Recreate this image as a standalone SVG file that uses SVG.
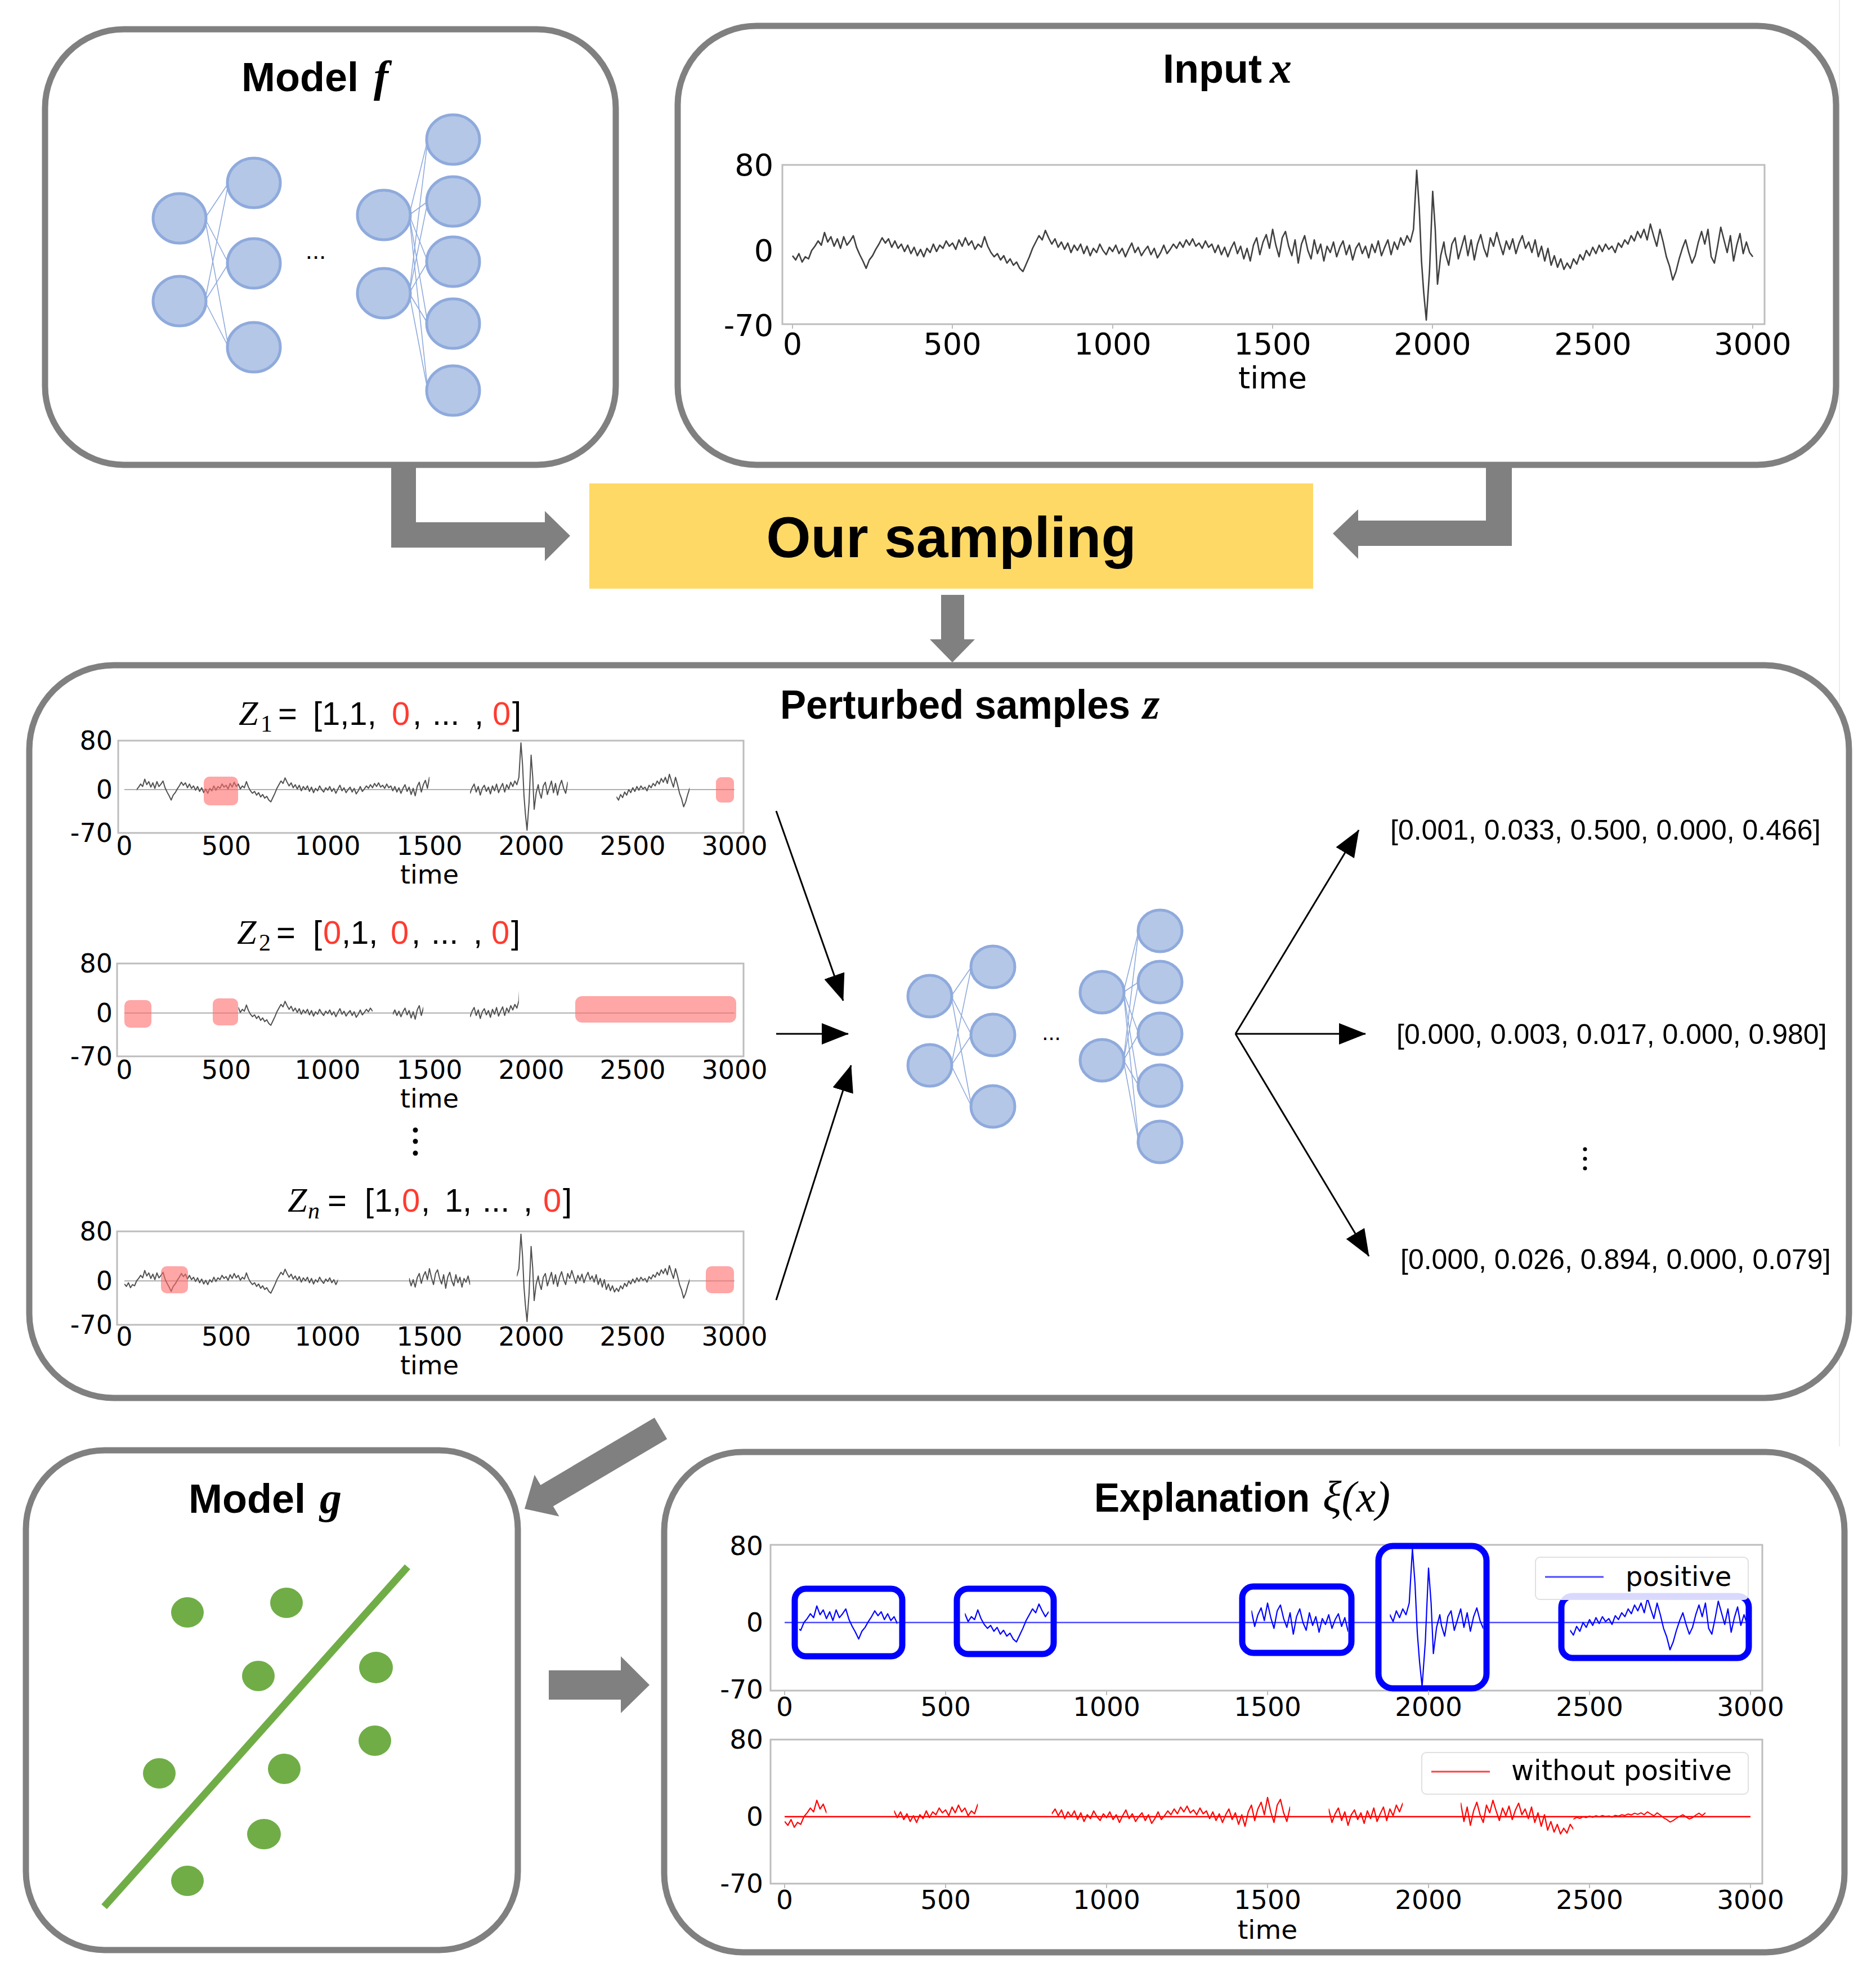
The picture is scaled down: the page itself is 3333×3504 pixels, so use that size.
<svg xmlns="http://www.w3.org/2000/svg" xmlns:xlink="http://www.w3.org/1999/xlink" width="3333" height="3504" viewBox="0 0 3333 3504">
<style>
.box{fill:#fff;stroke:#808080;stroke-width:11}
.title{font-family:"Liberation Sans",Arial,sans-serif;font-weight:bold;font-size:72px;fill:#000}
.math{font-family:"Liberation Serif","DejaVu Serif",serif;font-style:italic;font-weight:bold;fill:#000;font-size:78px}
.mathn{font-family:"Liberation Serif","DejaVu Serif",serif;font-style:italic;fill:#000}
.sub{font-family:"Liberation Serif","DejaVu Serif",serif;font-size:42px;fill:#000}
.tk{font-family:"DejaVu Sans",sans-serif;fill:#000;text-anchor:middle}
.tky{font-family:"DejaVu Sans",sans-serif;fill:#000;text-anchor:end}
.frame{fill:none;stroke:#bdbdbd;stroke-width:3}
.neuron{fill:#b4c7e7;stroke:#8faadc;stroke-width:5}
.syn{stroke:#8faadc;stroke-width:1.6}
.garrow{fill:#808080}
.zl{font-family:"Liberation Sans",Arial,sans-serif;font-size:58px;fill:#000}
.red{fill:#ff3b30}
.mask{fill:#ff6b6b;fill-opacity:0.6}
.out{font-family:"Liberation Sans",Arial,sans-serif;font-size:50px;fill:#000}
.bl{stroke:#000;stroke-width:3;fill:none}
.tick{stroke:#bdbdbd;stroke-width:2}
</style>
<defs>
<polyline id="sig" fill="none" vector-effect="non-scaling-stroke" stroke-linejoin="round" points="0,-5 10,-9 20,-3 30,-11 40,-6 50,-8 60,0 70,4 80,9 90,5 100,17 110,8 120,13 130,4 140,11 150,2 160,13 170,5 180,9 190,14 200,3 210,-4 220,-10 230,-17 240,-9 250,-5 260,1 270,6 280,12 290,7 300,11 310,3 320,9 330,2 340,6 350,-1 360,5 370,-3 380,3 390,-5 400,1 410,-6 420,2 430,-2 440,6 450,-1 460,5 470,2 480,9 490,4 500,7 510,1 520,10 530,4 540,12 550,5 560,9 570,1 580,6 590,3 600,13 610,4 620,-2 630,-6 640,-3 650,-9 660,-5 670,-12 680,-8 690,-14 700,-11 710,-17 720,-20 730,-13 740,-6 750,2 760,8 770,14 780,10 790,19 800,12 810,6 820,11 830,3 840,8 850,1 860,7 870,-2 880,5 890,0 900,6 910,-3 920,4 930,-5 940,2 950,-2 960,6 970,0 980,-4 990,3 1000,-1 1010,5 1020,-3 1030,2 1040,-6 1050,1 1060,7 1070,-2 1080,3 1090,-5 1100,0 1110,4 1120,-4 1130,2 1140,-7 1150,-2 1160,5 1170,-3 1180,1 1190,6 1200,2 1210,8 1220,3 1230,10 1240,5 1250,11 1260,4 1270,7 1280,2 1290,9 1300,3 1310,6 1320,-2 1330,5 1340,-4 1350,3 1360,-6 1370,2 1380,8 1390,-3 1400,4 1410,-8 1420,2 1430,-10 1440,5 1450,12 1460,-4 1470,8 1480,15 1490,2 1500,20 1510,5 1520,-6 1530,12 1540,18 1550,4 1560,-5 1570,10 1580,-12 1590,6 1600,14 1610,0 1620,-8 1630,10 1640,-3 1650,6 1660,-10 1670,4 1680,-2 1690,8 1700,-6 1710,3 1720,9 1730,-4 1740,5 1750,-9 1760,2 1770,7 1780,-3 1790,4 1800,-7 1810,6 1820,-2 1830,9 1840,-5 1850,3 1860,10 1870,-4 1880,8 1890,1 1900,12 1910,5 1920,14 1930,8 1940,20 1950,76 1958,40 1965,-10 1972,-40 1980,-66 1990,-20 2000,56 2008,20 2015,-32 2025,-5 2035,8 2040,-3 2050,-14 2060,6 2070,12 2080,-8 2090,3 2100,14 2110,-5 2120,10 2130,-9 2140,6 2150,15 2160,2 2170,-6 2180,12 2190,4 2200,17 2210,6 2220,-4 2230,9 2240,1 2250,11 2260,-3 2270,7 2280,14 2290,2 2300,8 2310,-2 2320,10 2330,-6 2340,4 2350,-10 2360,2 2370,-14 2380,-5 2390,-16 2400,-8 2410,-18 2420,-12 2430,-17 2440,-8 2450,-13 2460,-4 2470,-9 2480,0 2490,-5 2500,3 2510,-3 2520,5 2530,-1 2540,6 2550,1 2560,4 2570,-2 2580,7 2590,3 2600,10 2610,6 2620,14 2630,9 2640,18 2650,12 2660,20 2670,10 2680,25 2690,14 2700,4 2710,20 2720,8 2730,-6 2740,-15 2750,-28 2760,-20 2770,-8 2780,2 2790,10 2800,-2 2810,-12 2820,-5 2830,8 2840,18 2850,6 2860,20 2870,-6 2880,-12 2890,4 2900,22 2910,10 2920,-2 2930,14 2940,-10 2950,5 2960,16 2970,-3 2980,8 2990,-2 3000,-6"/>
<line id="zero" x1="0" y1="0" x2="3000" y2="0" vector-effect="non-scaling-stroke"/>
<clipPath id="cZ1" clipPathUnits="userSpaceOnUse"><rect x="60" y="-100" width="1440" height="200"/><rect x="1700" y="-100" width="480" height="200"/><rect x="2420" y="-100" width="360" height="200"/></clipPath>
<clipPath id="cZ2" clipPathUnits="userSpaceOnUse"><rect x="560" y="-100" width="660" height="200"/><rect x="1320" y="-100" width="150" height="200"/><rect x="1700" y="-100" width="240" height="200"/></clipPath>
<clipPath id="cZn" clipPathUnits="userSpaceOnUse"><rect x="0" y="-100" width="1050" height="200"/><rect x="1400" y="-100" width="300" height="200"/><rect x="1930" y="-100" width="850" height="200"/></clipPath>
<clipPath id="cPos" clipPathUnits="userSpaceOnUse"><rect x="45" y="-100" width="305" height="200"/><rect x="560" y="-100" width="260" height="200"/><rect x="1450" y="-100" width="300" height="200"/><rect x="1880" y="-100" width="290" height="200"/><rect x="2440" y="-100" width="555" height="200"/></clipPath>
<clipPath id="cNeg" clipPathUnits="userSpaceOnUse"><rect x="0" y="-100" width="130" height="200"/><rect x="340" y="-100" width="260" height="200"/><rect x="830" y="-100" width="740" height="200"/><rect x="1690" y="-100" width="230" height="200"/><rect x="2100" y="-100" width="350" height="200"/></clipPath>
<clipPath id="cNoise" clipPathUnits="userSpaceOnUse"><rect x="2450" y="-600" width="410" height="1200"/></clipPath>
<marker id="ah" viewBox="0 0 48 38" refX="47" refY="19" markerWidth="48" markerHeight="38" markerUnits="userSpaceOnUse" orient="auto"><path d="M0,0 L48,19 L0,38 z" fill="#000"/></marker>
</defs>
<rect width="3333" height="3504" fill="#fff"/>
<line x1="3268" y1="0" x2="3268" y2="2570" stroke="#ececec" stroke-width="2"/>

<g id="model-f">
<rect class="box" x="80" y="52" width="1014" height="774" rx="140"/>
<text class="title" x="429" y="162">Model</text><text class="math" x="664" y="162">f</text>
<g class="syn">
<line x1="364" y1="388" x2="406" y2="325"/><line x1="364" y1="388" x2="406" y2="468"/><line x1="364" y1="388" x2="406" y2="617"/>
<line x1="364" y1="535" x2="406" y2="325"/><line x1="364" y1="535" x2="406" y2="468"/><line x1="364" y1="535" x2="406" y2="617"/>
<line x1="727" y1="382" x2="760" y2="248"/><line x1="727" y1="382" x2="760" y2="358"/><line x1="727" y1="382" x2="760" y2="465"/><line x1="727" y1="382" x2="760" y2="575"/><line x1="727" y1="382" x2="760" y2="694"/>
<line x1="727" y1="521" x2="760" y2="248"/><line x1="727" y1="521" x2="760" y2="358"/><line x1="727" y1="521" x2="760" y2="465"/><line x1="727" y1="521" x2="760" y2="575"/><line x1="727" y1="521" x2="760" y2="694"/>
</g>
<g class="neuron">
<ellipse cx="319" cy="388" rx="47" ry="44"/><ellipse cx="319" cy="535" rx="47" ry="44"/>
<ellipse cx="451" cy="325" rx="47" ry="44"/><ellipse cx="451" cy="468" rx="47" ry="44"/><ellipse cx="451" cy="617" rx="47" ry="44"/>
<ellipse cx="682" cy="382" rx="47" ry="44"/><ellipse cx="682" cy="521" rx="47" ry="44"/>
<ellipse cx="805" cy="248" rx="47" ry="44"/><ellipse cx="805" cy="358" rx="47" ry="44"/><ellipse cx="805" cy="465" rx="47" ry="44"/><ellipse cx="805" cy="575" rx="47" ry="44"/><ellipse cx="805" cy="694" rx="47" ry="44"/>
</g>
<text x="561" y="460" font-family="Liberation Sans,sans-serif" font-size="44" text-anchor="middle">...</text>
</g>

<g id="input-x">
<rect class="box" x="1204" y="46" width="2058" height="780" rx="140"/>
<text class="title" x="2066" y="147">Input</text><text class="math" x="2256" y="147">x</text>
<rect class="frame" x="1390" y="293" width="1745" height="283"/>
<g transform="translate(1408,445) scale(0.5687,-1.873)"><use xlink:href="#sig" stroke="#404040" stroke-width="2.6"/></g>
<g class="tick"><line x1="1408" y1="576" x2="1408" y2="584"/><line x1="1692" y1="576" x2="1692" y2="584"/><line x1="1977" y1="576" x2="1977" y2="584"/><line x1="2261" y1="576" x2="2261" y2="584"/><line x1="2545" y1="576" x2="2545" y2="584"/><line x1="2830" y1="576" x2="2830" y2="584"/><line x1="3114" y1="576" x2="3114" y2="584"/></g>
<g class="tk" font-size="54"><text x="1408" y="630">0</text><text x="1692" y="630">500</text><text x="1977" y="630">1000</text><text x="2261" y="630">1500</text><text x="2545" y="630">2000</text><text x="2830" y="630">2500</text><text x="3114" y="630">3000</text><text x="2261" y="690">time</text></g>
<g class="tky" font-size="54"><text x="1374" y="312">80</text><text x="1374" y="464">0</text><text x="1374" y="597">-70</text></g>
</g>

<g id="our-sampling">
<rect x="1047" y="859" width="1286" height="187" fill="#ffd966"/>
<text class="title" x="1690" y="990" text-anchor="middle" style="font-size:102px">Our sampling</text>
</g>

<g id="perturbed-samples">
<rect class="box" x="52" y="1182" width="3233" height="1302" rx="150"/>
<text class="title" x="1386" y="1277" textLength="622" lengthAdjust="spacingAndGlyphs">Perturbed samples</text><text class="math" x="2030" y="1277">z</text>
<!-- Z1 -->
<text class="zl" y="1288"><tspan class="mathn" x="424" font-size="62">Z</tspan><tspan class="sub" x="463" y="1300">1</tspan><tspan x="494" y="1288">=</tspan><tspan x="556">[</tspan><tspan x="572">1,1,</tspan><tspan x="696" class="red">0</tspan><tspan x="733">,</tspan><tspan x="768">...</tspan><tspan x="843">,</tspan><tspan x="875" class="red">0</tspan><tspan x="910">]</tspan></text>
<rect class="frame" x="210" y="1316" width="1111" height="164"/>
<g transform="translate(221,1403) scale(0.3613,-1.093)"><use xlink:href="#zero" stroke="#b0b0b0" stroke-width="2.2"/><use xlink:href="#sig" stroke="#505050" stroke-width="2" clip-path="url(#cZ1)"/></g>
<rect class="mask" x="362" y="1380" width="61" height="51" rx="10"/>
<rect class="mask" x="1272" y="1381" width="32" height="45" rx="9"/>
<g class="tk" font-size="46"><text x="221" y="1519">0</text><text x="402" y="1519">500</text><text x="582" y="1519">1000</text><text x="763" y="1519">1500</text><text x="944" y="1519">2000</text><text x="1124" y="1519">2500</text><text x="1305" y="1519">3000</text><text x="763" y="1570">time</text></g>
<g class="tky" font-size="46"><text x="200" y="1332">80</text><text x="200" y="1419">0</text><text x="200" y="1496">-70</text></g>
<!-- Z2 -->
<text class="zl" y="1677"><tspan class="mathn" x="421" font-size="62">Z</tspan><tspan class="sub" x="460" y="1689">2</tspan><tspan x="491" y="1677">=</tspan><tspan x="556">[</tspan><tspan x="574" class="red">0</tspan><tspan x="607">,1,</tspan><tspan x="694" class="red">0</tspan><tspan x="731">,</tspan><tspan x="766">...</tspan><tspan x="841">,</tspan><tspan x="873" class="red">0</tspan><tspan x="908">]</tspan></text>
<rect class="frame" x="208" y="1712" width="1113" height="165"/>
<g transform="translate(221,1800) scale(0.3613,-1.093)"><use xlink:href="#zero" stroke="#b0b0b0" stroke-width="2.2"/><use xlink:href="#sig" stroke="#505050" stroke-width="2" clip-path="url(#cZ2)"/></g>
<rect class="mask" x="221" y="1777" width="48" height="49" rx="10"/>
<rect class="mask" x="378" y="1774" width="45" height="48" rx="10"/>
<rect class="mask" x="1022" y="1770" width="286" height="47" rx="12"/>
<g class="tk" font-size="46"><text x="221" y="1917">0</text><text x="402" y="1917">500</text><text x="582" y="1917">1000</text><text x="763" y="1917">1500</text><text x="944" y="1917">2000</text><text x="1124" y="1917">2500</text><text x="1305" y="1917">3000</text><text x="763" y="1968">time</text></g>
<g class="tky" font-size="46"><text x="200" y="1728">80</text><text x="200" y="1816">0</text><text x="200" y="1893">-70</text></g>
<g fill="#000"><circle cx="738" cy="2008" r="4.5"/><circle cx="738" cy="2028" r="4.5"/><circle cx="738" cy="2049" r="4.5"/></g>
<!-- Zn -->
<text class="zl" y="2153"><tspan class="mathn" x="511" font-size="62">Z</tspan><tspan class="mathn" x="547" y="2165" font-size="42">n</tspan><tspan x="582" y="2153">=</tspan><tspan x="648">[</tspan><tspan x="665">1</tspan><tspan x="697">,</tspan><tspan x="714" class="red">0</tspan><tspan x="748">,</tspan><tspan x="790">1</tspan><tspan x="822">,</tspan><tspan x="857">...</tspan><tspan x="930">,</tspan><tspan x="965" class="red">0</tspan><tspan x="1000">]</tspan></text>
<rect class="frame" x="208" y="2188" width="1113" height="166"/>
<g transform="translate(221,2276) scale(0.3613,-1.093)"><use xlink:href="#zero" stroke="#b0b0b0" stroke-width="2.2"/><use xlink:href="#sig" stroke="#505050" stroke-width="2" clip-path="url(#cZn)"/></g>
<rect class="mask" x="286" y="2250" width="48" height="48" rx="10"/>
<rect class="mask" x="1254" y="2250" width="50" height="48" rx="10"/>
<g class="tk" font-size="46"><text x="221" y="2391">0</text><text x="402" y="2391">500</text><text x="582" y="2391">1000</text><text x="763" y="2391">1500</text><text x="944" y="2391">2000</text><text x="1124" y="2391">2500</text><text x="1305" y="2391">3000</text><text x="763" y="2442">time</text></g>
<g class="tky" font-size="46"><text x="200" y="2204">80</text><text x="200" y="2292">0</text><text x="200" y="2370">-70</text></g>
<!-- network -->
<g class="syn">
<line x1="1690" y1="1770" x2="1726" y2="1718"/><line x1="1690" y1="1770" x2="1726" y2="1839"/><line x1="1690" y1="1770" x2="1726" y2="1966"/>
<line x1="1690" y1="1893" x2="1726" y2="1718"/><line x1="1690" y1="1893" x2="1726" y2="1839"/><line x1="1690" y1="1893" x2="1726" y2="1966"/>
<line x1="1996" y1="1763" x2="2023" y2="1654"/><line x1="1996" y1="1763" x2="2023" y2="1745"/><line x1="1996" y1="1763" x2="2023" y2="1837"/><line x1="1996" y1="1763" x2="2023" y2="1929"/><line x1="1996" y1="1763" x2="2023" y2="2029"/>
<line x1="1996" y1="1884" x2="2023" y2="1654"/><line x1="1996" y1="1884" x2="2023" y2="1745"/><line x1="1996" y1="1884" x2="2023" y2="1837"/><line x1="1996" y1="1884" x2="2023" y2="1929"/><line x1="1996" y1="1884" x2="2023" y2="2029"/>
</g>
<g class="neuron">
<ellipse cx="1652" cy="1770" rx="39" ry="37"/><ellipse cx="1652" cy="1893" rx="39" ry="37"/>
<ellipse cx="1764" cy="1718" rx="39" ry="37"/><ellipse cx="1764" cy="1839" rx="39" ry="37"/><ellipse cx="1764" cy="1966" rx="39" ry="37"/>
<ellipse cx="1958" cy="1763" rx="39" ry="37"/><ellipse cx="1958" cy="1884" rx="39" ry="37"/>
<ellipse cx="2061" cy="1654" rx="39" ry="37"/><ellipse cx="2061" cy="1745" rx="39" ry="37"/><ellipse cx="2061" cy="1837" rx="39" ry="37"/><ellipse cx="2061" cy="1929" rx="39" ry="37"/><ellipse cx="2061" cy="2029" rx="39" ry="37"/>
</g>
<text x="1868" y="1848" font-family="Liberation Sans,sans-serif" font-size="40" text-anchor="middle">...</text>
<text class="out" x="2470" y="1492">[0.001, 0.033, 0.500, 0.000, 0.466]</text>
<text class="out" x="2481" y="1855">[0.000, 0.003, 0.017, 0.000, 0.980]</text>
<text class="out" x="2488" y="2255">[0.000, 0.026, 0.894, 0.000, 0.079]</text>
<g fill="#000"><circle cx="2816" cy="2042" r="3.5"/><circle cx="2816" cy="2059" r="3.5"/><circle cx="2816" cy="2076" r="3.5"/></g>
</g>

<g id="model-g">
<rect class="box" x="46" y="2577" width="874" height="888" rx="140"/>
<text class="title" x="335" y="2688">Model</text><text class="math" x="568" y="2688">g</text>
<line x1="185" y1="3388" x2="724" y2="2784" stroke="#70ad47" stroke-width="13"/>
<g fill="#70ad47">
<ellipse cx="333" cy="2865" rx="29" ry="27"/><ellipse cx="509" cy="2848" rx="29" ry="27"/><ellipse cx="459" cy="2978" rx="29" ry="27"/>
<ellipse cx="668" cy="2963" rx="30" ry="28"/><ellipse cx="666" cy="3093" rx="29" ry="27"/><ellipse cx="283" cy="3151" rx="29" ry="27"/>
<ellipse cx="505" cy="3143" rx="29" ry="27"/><ellipse cx="469" cy="3259" rx="30" ry="27"/><ellipse cx="333" cy="3342" rx="29" ry="27"/>
</g>
</g>

<g id="explanation">
<rect class="box" x="1180" y="2580" width="2097" height="889" rx="140"/>
<text class="title" x="1944" y="2686" textLength="383" lengthAdjust="spacingAndGlyphs">Explanation</text><text class="mathn" x="2350" y="2686" style="font-size:78px">ξ(x)</text>
<rect class="frame" x="1369" y="2745" width="1762" height="259"/>
<g transform="translate(1394,2883) scale(0.572,-1.727)"><use xlink:href="#zero" stroke="#4b4bff" stroke-width="2.4"/><use xlink:href="#sig" stroke="#0000ff" stroke-width="2.2" clip-path="url(#cPos)"/></g>
<g fill="none" stroke="#0000ff" stroke-width="11">
<rect x="1412" y="2823" width="191" height="120" rx="20"/>
<rect x="1700" y="2823" width="172" height="116" rx="20"/>
<rect x="2207" y="2819" width="194" height="118" rx="20"/>
<rect x="2449" y="2747" width="192" height="253" rx="26"/>
<rect x="2774" y="2836" width="333" height="110" rx="20"/>
</g>
<rect x="2728" y="2767" width="378" height="75" rx="8" fill="#fff" fill-opacity="0.85" stroke="#e0e0e0" stroke-width="2"/>
<line x1="2745" y1="2802" x2="2849" y2="2802" stroke="#4b4bff" stroke-width="3"/>
<text x="2888" y="2818" font-family="DejaVu Sans,sans-serif" font-size="48">positive</text>
<g class="tick"><line x1="1394" y1="3004" x2="1394" y2="3012"/><line x1="1680" y1="3004" x2="1680" y2="3012"/><line x1="1966" y1="3004" x2="1966" y2="3012"/><line x1="2252" y1="3004" x2="2252" y2="3012"/><line x1="2538" y1="3004" x2="2538" y2="3012"/><line x1="2824" y1="3004" x2="2824" y2="3012"/><line x1="3110" y1="3004" x2="3110" y2="3012"/></g>
<g class="tk" font-size="47"><text x="1394" y="3049">0</text><text x="1680" y="3049">500</text><text x="1966" y="3049">1000</text><text x="2252" y="3049">1500</text><text x="2538" y="3049">2000</text><text x="2824" y="3049">2500</text><text x="3110" y="3049">3000</text></g>
<g class="tky" font-size="47"><text x="1356" y="2763">80</text><text x="1356" y="2899">0</text><text x="1356" y="3018">-70</text></g>
<rect class="frame" x="1369" y="3091" width="1762" height="256"/>
<g transform="translate(1394,3228) scale(0.572,-1.71)"><use xlink:href="#zero" stroke="#ff0000" stroke-width="2.4"/><use xlink:href="#sig" stroke="#ff0000" stroke-width="2.2" clip-path="url(#cNeg)"/><use xlink:href="#sig" stroke="#ff0000" stroke-width="2" transform="scale(1,0.2)" clip-path="url(#cNoise)"/></g>
<rect x="2526" y="3114" width="580" height="74" rx="8" fill="#fff" fill-opacity="0.85" stroke="#e0e0e0" stroke-width="2"/>
<line x1="2543" y1="3148" x2="2647" y2="3148" stroke="#ff4040" stroke-width="3"/>
<text x="2685" y="3163" font-family="DejaVu Sans,sans-serif" font-size="49">without positive</text>
<g class="tick"><line x1="1394" y1="3347" x2="1394" y2="3355"/><line x1="1680" y1="3347" x2="1680" y2="3355"/><line x1="1966" y1="3347" x2="1966" y2="3355"/><line x1="2252" y1="3347" x2="2252" y2="3355"/><line x1="2538" y1="3347" x2="2538" y2="3355"/><line x1="2824" y1="3347" x2="2824" y2="3355"/><line x1="3110" y1="3347" x2="3110" y2="3355"/></g>
<g class="tk" font-size="47"><text x="1394" y="3392">0</text><text x="1680" y="3392">500</text><text x="1966" y="3392">1000</text><text x="2252" y="3392">1500</text><text x="2538" y="3392">2000</text><text x="2824" y="3392">2500</text><text x="3110" y="3392">3000</text><text x="2252" y="3445">time</text></g>
<g class="tky" font-size="47"><text x="1356" y="3107">80</text><text x="1356" y="3244">0</text><text x="1356" y="3363">-70</text></g>
</g>

<g id="connectors">
<polygon class="garrow" points="695,826 739,826 739,928 968,928 968,908 1013,952 968,997 968,973 695,973"/>
<polygon class="garrow" points="2686,826 2686,970 2413,970 2413,993 2368,948 2413,905 2413,925 2640,925 2640,826"/>
<polygon class="garrow" points="1672,1057 1713,1057 1713,1136 1732,1136 1692,1177 1652,1136 1672,1136"/>
<polygon class="garrow" points="1162.8,2519.1 960.4,2638.7 949.7,2620.6 932,2681 993.5,2694.6 982.8,2676.5 1185.2,2556.9"/>
<polygon class="garrow" points="975,2968 1103,2968 1103,2943 1154,2994 1103,3044 1103,3020 975,3020"/>
<line class="bl" x1="1379" y1="1441" x2="1498" y2="1778" marker-end="url(#ah)"/>
<line class="bl" x1="1379" y1="1837" x2="1507" y2="1837" marker-end="url(#ah)"/>
<line class="bl" x1="1379" y1="2310" x2="1512" y2="1893" marker-end="url(#ah)"/>
<line class="bl" x1="2195" y1="1837" x2="2414" y2="1475" marker-end="url(#ah)"/>
<line class="bl" x1="2195" y1="1837" x2="2426" y2="1837" marker-end="url(#ah)"/>
<line class="bl" x1="2195" y1="1837" x2="2432" y2="2232" marker-end="url(#ah)"/>
</g>
</svg>
